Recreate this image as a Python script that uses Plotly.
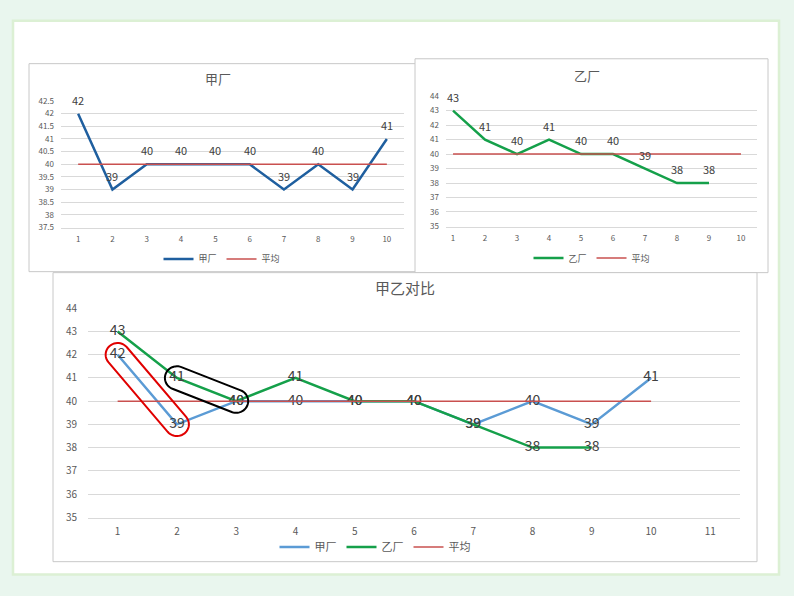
import math
import plotly.graph_objects as go

W, H = 794, 596

# ---------------- data ----------------
days = [1, 2, 3, 4, 5, 6, 7, 8, 9, 10]
days_yi = [1, 2, 3, 4, 5, 6, 7, 8, 9]
jia = [42, 39, 40, 40, 40, 40, 39, 40, 39, 41]
yi = [43, 41, 40, 41, 40, 40, 39, 38, 38]
avg = [40, 40, 40, 40, 40, 40, 40, 40, 40, 40]
ticks_1 = [37.5, 38, 38.5, 39, 39.5, 40, 40.5, 41, 41.5, 42, 42.5]
ticks_2 = [35, 36, 37, 38, 39, 40, 41, 42, 43, 44]
x_ticks_10 = [1, 2, 3, 4, 5, 6, 7, 8, 9, 10]
x_ticks_11 = [1, 2, 3, 4, 5, 6, 7, 8, 9, 10, 11]
title_1, title_2, title_3 = "甲厂", "乙厂", "甲乙对比"
name_jia, name_yi, name_avg = "甲厂", "乙厂", "平均"

# ---------------- style ----------------
FONT = "Noto Sans CJK SC"
GRID = "#D9D9D9"
TICK = "#595959"
LBL = "#404040"
BLUE_DARK = "#1F5F9F"
BLUE = "#5B9BD5"
GREEN = "#15A04A"
RED = "#C9504F"

# pixel geometry of the three plot areas
AX = {
    1: dict(px=(61, 404), py=(95, 225), xr=(0.5, 10.5), yr=(37.5, 42.5)),
    2: dict(px=(446, 757), py=(90, 224), xr=(0.78, 10.5), yr=(35, 44)),
    3: dict(px=(88, 740), py=(307, 522), xr=(0.5, 11.5), yr=(35, 44)),
}


def dom_x(a):
    return [a["px"][0] / W, a["px"][1] / W]


def dom_y(a):
    return [1 - a["py"][1] / H, 1 - a["py"][0] / H]


def d2p(a, x, y):
    px = a["px"][0] + (x - a["xr"][0]) / (a["xr"][1] - a["xr"][0]) * (a["px"][1] - a["px"][0])
    py = a["py"][1] - (y - a["yr"][0]) / (a["yr"][1] - a["yr"][0]) * (a["py"][1] - a["py"][0])
    return px, py


def p2d(a, px, py):
    x = a["xr"][0] + (px - a["px"][0]) / (a["px"][1] - a["px"][0]) * (a["xr"][1] - a["xr"][0])
    y = a["yr"][0] + (a["py"][1] - py) / (a["py"][1] - a["py"][0]) * (a["yr"][1] - a["yr"][0])
    return x, y


def stadium(a, p, q, r, n=24):
    (ax_, ay_), (bx_, by_) = d2p(a, *p), d2p(a, *q)
    base = math.atan2(by_ - ay_, bx_ - ax_)
    pts = []
    for i in range(n + 1):
        t = base - math.pi / 2 + math.pi * i / n
        pts.append((bx_ + r * math.cos(t), by_ + r * math.sin(t)))
    for i in range(n + 1):
        t = base + math.pi / 2 + math.pi * i / n
        pts.append((ax_ + r * math.cos(t), ay_ + r * math.sin(t)))
    dpts = [p2d(a, x, y) for x, y in pts]
    return "M " + " L ".join(f"{x:.4f},{y:.4f}" for x, y in dpts) + " Z"


fig = go.Figure()

# ---- chart 1 ----
fig.add_trace(go.Scatter(x=days, y=jia, name=name_jia, mode="lines",
                         line=dict(color=BLUE_DARK, width=2.5), xaxis="x", yaxis="y", legend="legend"))
fig.add_trace(go.Scatter(x=days, y=avg, name=name_avg, mode="lines",
                         line=dict(color=RED, width=1.5), xaxis="x", yaxis="y", legend="legend"))
# ---- chart 2 ----
fig.add_trace(go.Scatter(x=days_yi, y=yi, name=name_yi, mode="lines",
                         line=dict(color=GREEN, width=2.5), xaxis="x2", yaxis="y2", legend="legend2"))
fig.add_trace(go.Scatter(x=days, y=avg, name=name_avg, mode="lines",
                         line=dict(color=RED, width=1.5), xaxis="x2", yaxis="y2", legend="legend2"))
# ---- chart 3 ----
fig.add_trace(go.Scatter(x=days, y=jia, name=name_jia, mode="lines+text", text=[str(v) for v in jia],
                         textposition="middle center", textfont=dict(size=14, color=LBL, family=FONT),
                         line=dict(color=BLUE, width=2.5), xaxis="x3", yaxis="y3", legend="legend3"))
fig.add_trace(go.Scatter(x=days_yi, y=yi, name=name_yi, mode="lines+text", text=[str(v) for v in yi],
                         textposition="middle center", textfont=dict(size=14, color=LBL, family=FONT),
                         line=dict(color=GREEN, width=2.5), xaxis="x3", yaxis="y3", legend="legend3"))
fig.add_trace(go.Scatter(x=days, y=avg, name=name_avg, mode="lines",
                         line=dict(color=RED, width=1.5), xaxis="x3", yaxis="y3", legend="legend3"))


def xaxis(a, ticks, anchor, size):
    return dict(domain=dom_x(a), range=list(a["xr"]), anchor=anchor, tickmode="array", tickvals=ticks,
                showgrid=False, zeroline=False, showline=True, linecolor=GRID, linewidth=1,
                ticks="", tickfont=dict(size=size, color=TICK, family=FONT), ticklabelstandoff=4)


def yaxis(a, ticks, anchor, size, pad, standoff):
    return dict(domain=dom_y(a), range=[a["yr"][0] - pad, a["yr"][1] + pad], anchor=anchor, tickmode="array",
                tickvals=ticks, showgrid=True, gridcolor=GRID, gridwidth=1, zeroline=False, showline=False,
                ticks="", tickfont=dict(size=size, color=TICK, family=FONT), ticklabelstandoff=standoff)


shapes = [
    dict(type="rect", xref="paper", yref="paper", x0=13 / W, x1=779 / W, y0=1 - 580 / H, y1=1 - 13 / H,
         fillcolor="white", line=dict(color="#DCF0D4", width=2.5), layer="below"),
    dict(type="rect", xref="paper", yref="paper", x0=29 / W, x1=416 / W, y0=1 - 270 / H, y1=1 - 57 / H,
         fillcolor="white", line=dict(color="#C8C8C8", width=1), layer="below"),
    dict(type="rect", xref="paper", yref="paper", x0=415 / W, x1=768 / W, y0=1 - 271 / H, y1=1 - 52 / H,
         fillcolor="white", line=dict(color="#C8C8C8", width=1), layer="below"),
    dict(type="rect", xref="paper", yref="paper", x0=53 / W, x1=757 / W, y0=1 - 567 / H, y1=1 - 271 / H,
         fillcolor="white", line=dict(color="#C8C8C8", width=1), layer="below"),
    dict(type="path", xref="x3", yref="y3",
         path=stadium(AX[3], (days[0], jia[0]), (days[1], jia[1]), 12),
         line=dict(color="#E00000", width=2), fillcolor="rgba(0,0,0,0)", layer="above"),
    dict(type="path", xref="x3", yref="y3",
         path=stadium(AX[3], (days_yi[1], yi[1]), (days_yi[2], yi[2]), 12),
         line=dict(color="#000000", width=2), fillcolor="rgba(0,0,0,0)", layer="above"),
]

annotations = [
    dict(text=title_1, x=218 / W, y=1 - 72 / H, xref="paper", yref="paper", showarrow=False,
         font=dict(size=13, color=TICK, family=FONT), xanchor="center", yanchor="middle"),
    dict(text=title_2, x=587 / W, y=1 - 69 / H, xref="paper", yref="paper", showarrow=False,
         font=dict(size=13, color=TICK, family=FONT), xanchor="center", yanchor="middle"),
    dict(text=title_3, x=405 / W, y=1 - 286 / H, xref="paper", yref="paper", showarrow=False,
         font=dict(size=15, color=TICK, family=FONT), xanchor="center", yanchor="middle"),
]

# data labels above points for charts 1 and 2
for xs, ys, xr, yr in [(days, jia, "x", "y"), (days_yi, yi, "x2", "y2")]:
    for xv, yv in zip(xs, ys):
        annotations.append(dict(text=str(yv), x=xv, y=yv, xref=xr, yref=yr, showarrow=False,
                                xanchor="center", yanchor="middle", yshift=14,
                                font=dict(size=11, color=LBL, family=FONT)))


def legend(cx, cy, size):
    return dict(orientation="h", x=cx / W, y=1 - cy / H, xanchor="center", yanchor="middle",
                bgcolor="rgba(0,0,0,0)", font=dict(size=size, color=TICK, family=FONT),
                itemwidth=30, tracegroupgap=0, traceorder="normal")


fig.update_layout(
    width=W, height=H, autosize=False,
    margin=dict(l=0, r=0, t=0, b=0),
    paper_bgcolor="#E9F6EE", plot_bgcolor="rgba(0,0,0,0)",
    font=dict(family=FONT),
    xaxis=xaxis(AX[1], x_ticks_10, "y", 8),
    yaxis=yaxis(AX[1], ticks_1, "x", 8, 0.01, 6),
    xaxis2=xaxis(AX[2], x_ticks_10, "y2", 8),
    yaxis2=yaxis(AX[2], ticks_2, "x2", 8, 0.02, 6),
    xaxis3=xaxis(AX[3], x_ticks_11, "y3", 10),
    yaxis3=yaxis(AX[3], ticks_2, "x3", 10, 0.02, 10),
    legend=legend(222, 257, 9),
    legend2=legend(592, 256, 9),
    legend3=legend(375, 552, 11),
    shapes=shapes,
    annotations=annotations,
    showlegend=True,
)

fig.write_html("out.html", config={"displayModeBar": False},
               post_script="document.body.style.margin='0';document.body.style.overflow='hidden';")
